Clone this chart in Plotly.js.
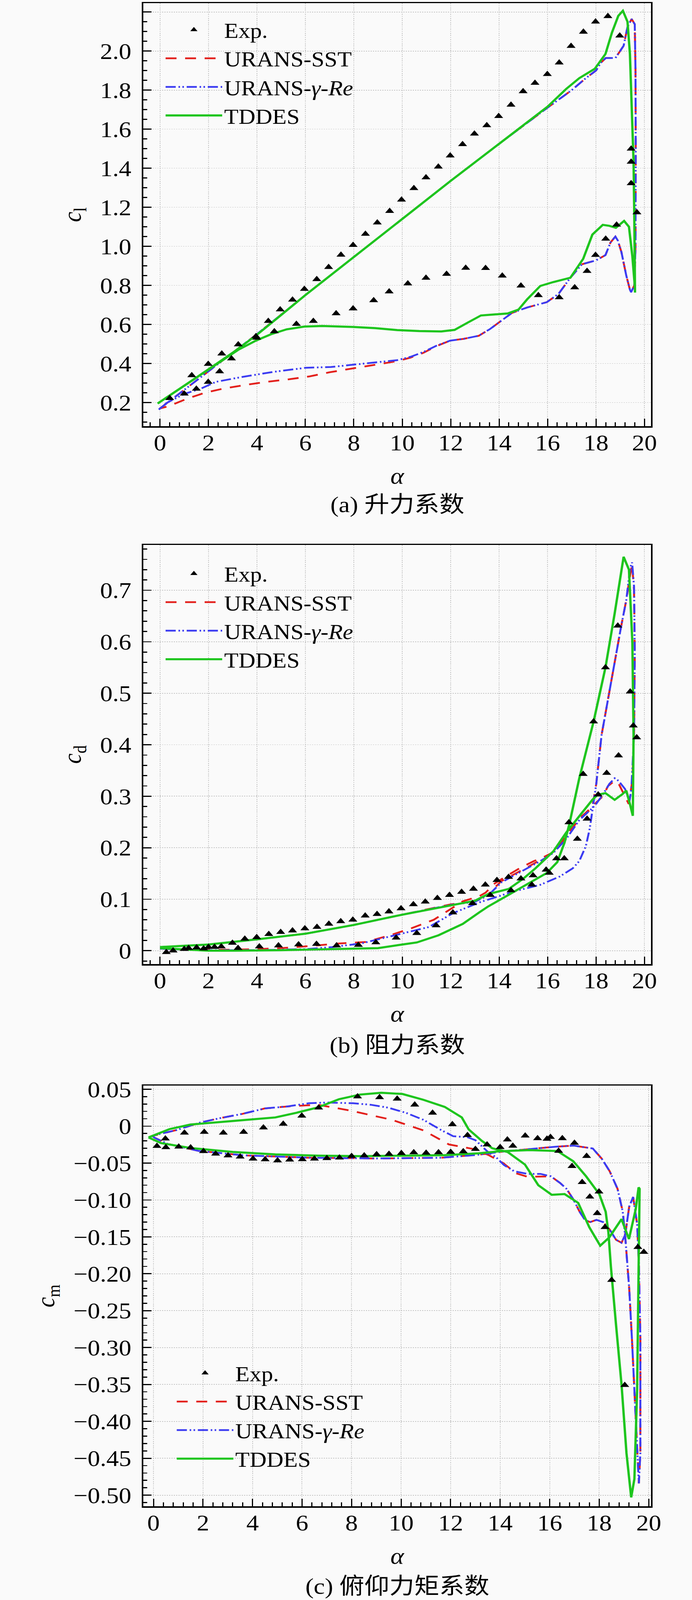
<!DOCTYPE html>
<html>
<head>
<meta charset="utf-8">
<script src="https://cdn.plot.ly/plotly-3.0.1.min.js"></script>
<style>
  html, body { margin: 0; padding: 0; background: #fafafa; width: 1772px; overflow: hidden; }
  /* the photographed area is only ~4096px tall, so the 4539px page is fitted into it */
  #page { width: 1772px; height: 4539px; transform: scaleY(0.9024); transform-origin: 0 0; }
  .fig { width: 1772px; display: block; }
</style>
</head>
<body>
<div id="page">
<div id="cl_plot" class="fig" style="height:1500px"></div>
<div id="cd_plot" class="fig" style="height:1500px"></div>
<div id="cm_plot" class="fig" style="height:1539px"></div>
</div>
<script>
// ---- (a) lift coefficient ----
const cl_exp_a = [0.4,1.0,1.31,1.99,2.55,3.23,3.96,4.47,4.96,5.47,5.96,6.47,6.96,7.47,7.97,8.48,8.97,9.48,9.97,10.48,10.98,11.49,11.98,12.49,12.98,13.49,13.98,14.49,14.99,15.48,15.99,16.48,16.97,17.48,17.98,18.49,18.98,19.45,19.45,19.45,19.69,18.85,18.4,17.98,17.63,17.12,16.48,15.62,14.9,14.13,13.44,12.62,11.83,10.98,10.23,9.46,8.82,7.97,7.27,6.33,5.63,4.72,3.99,2.95,2.46,1.99,1.5]
const cl_exp_c = [0.222,0.245,0.339,0.397,0.45,0.497,0.539,0.617,0.676,0.726,0.781,0.831,0.893,0.956,1.006,1.063,1.121,1.180,1.238,1.297,1.352,1.407,1.464,1.522,1.576,1.619,1.666,1.724,1.793,1.836,1.881,1.940,2.025,2.098,2.150,2.178,2.078,1.499,1.432,1.322,1.173,1.110,1.038,0.955,0.873,0.789,0.738,0.749,0.798,0.849,0.888,0.889,0.858,0.838,0.809,0.768,0.723,0.681,0.656,0.617,0.602,0.564,0.531,0.425,0.359,0.305,0.270]

const cl_sst_a = [0,1,2,3,4,5,6,8,10,12,14,15.16,16,17,17.58,18.0,18.2,18.4,18.8,19.14,19.3,19.47,19.6,19.63,19.64,19.63,19.58,19.45,19.4,19.25,19.05,18.9,18.8,18.6,18.39,18.0,17.42,16.94,16.45,15.97,15.16,14.53,14.07,13.62,13.16,12.53,11.98,11.43,10.88,10.34,9.79,8.9,7.97,7.0,6.18,5.32,4.4,3.52,2.63,1.82,1.08,0.37,0]
const cl_sst_c = [0.17,0.265,0.36,0.455,0.55,0.65,0.75,0.945,1.14,1.335,1.525,1.633,1.71,1.80,1.861,1.90,1.94,1.964,1.964,2.027,2.123,2.164,2.137,1.9,1.5,1.0,0.8,0.765,0.778,0.85,0.97,1.03,1.05,1.02,0.955,0.928,0.908,0.839,0.756,0.714,0.687,0.659,0.617,0.576,0.542,0.526,0.517,0.49,0.455,0.43,0.412,0.395,0.375,0.355,0.334,0.319,0.306,0.29,0.272,0.249,0.218,0.182,0.17]

const cl_gre_a = [-0.05,0,1,2,3,4,5,6,8,10,12,14,15.16,16,17,17.58,18.0,18.2,18.4,18.8,19.14,19.3,19.47,19.6,19.63,19.64,19.63,19.58,19.45,19.4,19.25,19.05,18.9,18.8,18.6,18.39,18.0,17.42,16.94,16.45,15.97,15.16,14.53,14.07,13.62,13.16,12.53,11.98,11.43,10.88,10.34,9.79,8.88,7.97,7.06,6.02,4.68,3.34,2.31,1.66,1.02,0.27,-0.05]
const cl_gre_c = [0.164,0.17,0.265,0.36,0.455,0.55,0.65,0.75,0.945,1.14,1.335,1.525,1.633,1.71,1.80,1.861,1.90,1.94,1.964,1.964,2.027,2.123,2.164,2.137,1.9,1.5,1.0,0.8,0.765,0.778,0.85,0.97,1.03,1.05,1.02,0.955,0.928,0.908,0.839,0.756,0.714,0.687,0.659,0.617,0.576,0.542,0.526,0.517,0.492,0.459,0.434,0.417,0.405,0.392,0.382,0.378,0.357,0.33,0.306,0.27,0.245,0.198,0.164]

const cl_tddes_a = [-0.1,1,2,3,4,5,6,8,10,12,14,15.16,16,16.77,17.31,17.95,18.39,18.66,18.92,19.11,19.3,19.4,19.48,19.55,19.58,19.61,19.6,19.5,19.36,19.16,18.98,18.82,18.55,18.28,17.85,17.47,16.94,16.24,15.7,15.16,14.8,14.35,13.8,13.25,12.7,12.16,11.61,10.7,9.79,8.88,7.97,6.69,5.96,5.23,4.59,3.96,3.23,2.5,1.77,1.04,0.4,-0.1]
const cl_tddes_c = [0.195,0.285,0.37,0.455,0.547,0.648,0.75,0.945,1.14,1.335,1.525,1.635,1.715,1.806,1.861,1.909,1.985,2.095,2.18,2.206,2.15,1.985,1.709,1.433,1.157,0.763,0.8,0.95,1.10,1.13,1.11,1.095,1.105,1.11,1.06,0.936,0.839,0.817,0.797,0.729,0.676,0.656,0.651,0.646,0.609,0.572,0.564,0.566,0.571,0.581,0.587,0.592,0.589,0.575,0.55,0.517,0.47,0.41,0.35,0.29,0.235,0.195]

// ---- (b) drag coefficient ----
const cd_exp_a = [0.26,0.54,1.0,1.18,1.51,1.8,2.0,2.25,2.53,2.99,3.5,3.99,4.49,4.98,5.47,5.98,6.48,6.97,7.46,7.96,8.47,8.96,9.45,9.95,10.46,10.95,11.45,11.95,12.45,12.94,13.43,13.91,14.39,14.9,15.4,15.94,16.37,16.88,17.47,17.9,18.39,18.9,19.41,19.54,19.68,3.22,4.1,4.89,5.72,6.46,7.29,8.19,8.91,9.75,10.6,11.4,12.09,12.9,13.64,14.49,15.35,16.07,16.69,17.23,17.63,18.09,18.44,18.93]
const cd_exp_c = [-0.003,0.0,0.003,0.005,0.006,0.004,0.007,0.007,0.008,0.015,0.023,0.026,0.032,0.036,0.039,0.043,0.046,0.052,0.057,0.06,0.068,0.071,0.076,0.082,0.09,0.095,0.102,0.108,0.114,0.12,0.128,0.137,0.143,0.14,0.146,0.157,0.179,0.249,0.343,0.445,0.55,0.631,0.503,0.437,0.414,0.005,0.008,0.01,0.012,0.013,0.01,0.011,0.016,0.025,0.034,0.049,0.074,0.092,0.108,0.117,0.128,0.151,0.179,0.217,0.256,0.303,0.345,0.379]

const cd_sst_a = [0,1,2,3,4,5,5.9,7.4,8.5,9.5,10.4,11.3,12.5,13.17,13.44,13.82,14.19,14.52,14.84,15.43,15.81,16.18,16.5,16.77,16.99,17.3,17.6,17.85,18.01,18.23,18.5,18.77,19.03,19.25,19.41,19.49,19.57,19.6,19.57,19.5,19.35,19.2,18.93,18.77,18.5,18.28,17.96,17.58,17.31,16.77,16.24,15.7,15.16,14.62,14.09,13.55,13.0,12,10,8,6,4,2,0]
const cd_sst_c = [0.004,0.002,0.002,0.002,0.003,0.005,0.008,0.014,0.017,0.03,0.044,0.06,0.096,0.1055,0.1127,0.1305,0.1417,0.151,0.16,0.174,0.181,0.19,0.206,0.224,0.242,0.256,0.266,0.28,0.324,0.419,0.492,0.56,0.628,0.681,0.73,0.75,0.70,0.576,0.42,0.33,0.285,0.30,0.325,0.33,0.32,0.30,0.285,0.268,0.257,0.22,0.192,0.176,0.162,0.148,0.135,0.11,0.096,0.09,0.07,0.05,0.033,0.022,0.012,0.007]

const cd_gre_a = [0,1,2,3,4,5,6,7.1,8.3,9.7,11.1,12.1,13.2,14.0,14.6,15.7,16.5,17.04,17.31,17.58,17.74,17.85,17.96,18.01,18.23,18.5,18.77,19.03,19.25,19.41,19.49,19.57,19.6,19.57,19.46,19.38,19.2,18.93,18.77,18.55,18.28,17.96,17.58,17.31,16.77,16.24,15.7,15.16,14.62,14.09,13.55,13.0,12,10,8,6,4,2,0]
const cd_gre_c = [0.004,0.002,0.001,0.001,0.001,0.002,0.003,0.007,0.014,0.03,0.046,0.073,0.094,0.106,0.115,0.128,0.144,0.16,0.174,0.203,0.237,0.272,0.306,0.324,0.419,0.492,0.56,0.628,0.681,0.744,0.754,0.707,0.576,0.419,0.314,0.29,0.314,0.33,0.335,0.324,0.303,0.282,0.265,0.2536,0.217,0.19,0.174,0.16,0.146,0.1326,0.1075,0.095,0.089,0.07,0.05,0.033,0.022,0.012,0.007]

const cd_tddes_a = [0,1,2,3,4,5,6,7,8,9,10,10.6,11.5,12.5,13.2,13.55,14,14.63,15.2,15.97,16.4,16.7,16.9,17.31,17.9,18.39,18.77,19.14,19.36,19.5,19.55,19.52,19.41,19.25,19.09,18.77,18.39,18.07,17.85,17.31,16.78,16.24,15.5,15,14.4,13.55,13,12,10,8,6,4,2,0]
const cd_tddes_c = [0.005,0.002,0.0,0.0,0.0,0.001,0.002,0.003,0.003,0.005,0.012,0.016,0.03,0.052,0.075,0.086,0.098,0.115,0.13,0.151,0.172,0.21,0.246,0.335,0.445,0.55,0.655,0.765,0.74,0.6,0.42,0.262,0.283,0.311,0.304,0.293,0.306,0.303,0.293,0.262,0.23,0.193,0.16,0.14,0.12,0.11,0.097,0.088,0.07,0.05,0.033,0.022,0.012,0.007]

// ---- (c) pitching moment coefficient ----
const cm_exp_a = [0.48,1.25,2.05,2.82,3.64,4.44,5.24,5.99,6.67,8.24,9.13,9.84,10.55,11.27,12.07,12.68,13.47,14.29,14.51,15.01,15.51,15.89,16.03,16.51,17.0,17.49,16.9,17.31,17.62,17.99,17.92,18.23,18.5,19.03,19.56,19.8,16.36,14.0,0.14,0.5,1.02,1.5,2.02,2.51,3.01,3.5,4.02,4.51,5.01,5.5,6.01,6.5,7.0,7.51,8.0,8.51,9.01,9.51,10.01,10.51,11.01,11.51,12.0,12.51,13.0]
const cm_exp_c = [-0.017,-0.009,-0.008,-0.009,-0.008,-0.002,0.003,0.014,0.025,0.04,0.039,0.037,0.029,0.018,0.0024,-0.0124,-0.0251,-0.0183,-0.0268,-0.013,-0.0166,-0.0173,-0.0149,-0.0166,-0.0228,-0.0406,-0.0543,-0.076,-0.0957,-0.0888,-0.118,-0.137,-0.2086,-0.351,-0.164,-0.1706,-0.0336,-0.0286,-0.027,-0.0288,-0.028,-0.029,-0.034,-0.0375,-0.0399,-0.0415,-0.0442,-0.0452,-0.0466,-0.0455,-0.045,-0.0442,-0.0436,-0.0428,-0.0407,-0.0399,-0.0383,-0.0378,-0.0367,-0.0356,-0.0363,-0.0356,-0.0351,-0.0343,-0.0311]

const cm_sst_a = [-0.05,0.04,0.57,1.82,3.6,6.27,8.95,11.62,13.05,14.12,15.19,16.26,16.97,17.74,18.1,18.42,18.74,18.95,19.05,19.21,19.32,19.42,19.53,19.6,19.66,19.66,19.6,19.53,19.37,19.21,19.05,18.9,18.68,18.42,18.16,17.89,17.63,17.42,17.21,16.95,16.68,16.42,16.05,15.63,15.1,14.65,14.12,13.52,12.96,11.93,10.9,9.62,7.92,6.63,5.38,4.5,3.6,2.71,1.9,0.93,0.21,-0.05]
const cm_sst_c = [-0.0133,-0.0156,-0.024,-0.0335,-0.0395,-0.0428,-0.0438,-0.0428,-0.039,-0.0344,-0.0311,-0.0278,-0.0264,-0.0303,-0.044,-0.061,-0.085,-0.116,-0.15,-0.22,-0.288,-0.357,-0.426,-0.484,-0.443,-0.288,-0.185,-0.133,-0.096,-0.109,-0.147,-0.158,-0.154,-0.14,-0.13,-0.127,-0.13,-0.127,-0.116,-0.099,-0.085,-0.077,-0.068,-0.068,-0.0686,-0.064,-0.05,-0.039,-0.0312,-0.0248,-0.0057,0.0086,0.0213,0.029,0.0266,0.024,0.0167,0.011,0.005,-0.0053,-0.011,-0.0133]

const cm_gre_a = [-0.05,0.04,0.57,1.82,3.6,6.27,8.95,11.62,13.05,14.12,15.19,16.26,16.97,17.74,18.1,18.42,18.74,18.95,19.05,19.21,19.32,19.42,19.53,19.6,19.66,19.66,19.6,19.53,19.37,19.21,19.05,18.9,18.68,18.42,18.16,17.89,17.63,17.42,17.21,16.95,16.68,16.42,16.05,15.63,15.1,14.57,14.15,13.84,13.52,13.0,12.68,12.1,11.6,10.9,10.2,9.48,8.77,8.06,6.99,6.27,5.38,4.5,3.6,2.71,1.9,0.93,0.21,-0.05]
const cm_gre_c = [-0.0133,-0.0156,-0.024,-0.0335,-0.0395,-0.0428,-0.0438,-0.0428,-0.039,-0.0344,-0.0311,-0.0278,-0.0264,-0.0303,-0.044,-0.061,-0.085,-0.116,-0.15,-0.22,-0.288,-0.357,-0.426,-0.484,-0.443,-0.288,-0.185,-0.133,-0.096,-0.109,-0.147,-0.158,-0.154,-0.14,-0.13,-0.127,-0.13,-0.127,-0.116,-0.099,-0.085,-0.077,-0.068,-0.0647,-0.0647,-0.0612,-0.0526,-0.0423,-0.0354,-0.019,-0.015,-0.0136,-0.005,0.0086,0.018,0.025,0.029,0.031,0.032,0.031,0.0266,0.024,0.0167,0.011,0.005,-0.0053,-0.011,-0.0133]

const cm_tddes_a = [-0.2,0.31,1.5,3.2,4.92,6.63,8.34,10.05,11.76,13.13,14.0,15.19,16.31,16.95,17.47,18.0,18.26,18.37,18.47,18.68,18.9,19.1,19.29,19.42,19.53,19.58,19.63,19.59,19.47,19.2,18.9,18.4,18.04,17.6,17.15,16.6,16.08,15.54,15.0,14.3,13.68,13.26,12.73,12.45,11.76,10.9,10.05,9.2,8.34,7.49,6.63,5.78,4.92,3.2,1.5,0.65,-0.08,-0.2]
const cm_tddes_c = [-0.0153,-0.023,-0.0296,-0.035,-0.0383,-0.040,-0.0407,-0.0402,-0.0393,-0.0368,-0.034,-0.0325,-0.0337,-0.0475,-0.068,-0.092,-0.116,-0.144,-0.19,-0.27,-0.35,-0.443,-0.503,-0.478,-0.357,-0.22,-0.085,-0.083,-0.113,-0.153,-0.126,-0.151,-0.162,-0.137,-0.104,-0.092,-0.093,-0.080,-0.052,-0.035,-0.030,-0.02,-0.0045,0.0118,0.0261,0.0357,0.0436,0.0452,0.0428,0.0365,0.0253,0.0182,0.0118,0.007,0.0022,-0.004,-0.0136,-0.0153]

const cm_tick_vals = [0.05,0,-0.05,-0.10,-0.15,-0.20,-0.25,-0.30,-0.35,-0.40,-0.45,-0.50]
const cm_tick_text = ["0.05","0","\u22120.05","\u22120.10","\u22120.15","\u22120.20","\u22120.25","\u22120.30","\u22120.35","\u22120.40","\u22120.45","\u22120.50"]

const series_names = ["Exp.", "URANS-SST", "URANS-<i>\u03b3</i>-<i>Re</i>", "TDDES"]

const bg = '#fafafa'
const font_family = "'Liberation Serif', 'Times New Roman', 'Noto Sans CJK SC', serif"

function make_traces(exp_a, exp_c, sst_a, sst_c, gre_a, gre_c, tddes_a, tddes_c)
{
    // lines first, experiment triangles drawn on top but listed first in legend
    return [
        { x: sst_a, y: sst_c, name: series_names[1], mode: 'lines', legendrank: 2,
          line: { color: '#e3201c', width: 5, dash: '28px,22px' } },
        { x: gre_a, y: gre_c, name: series_names[2], mode: 'lines', legendrank: 3,
          line: { color: '#3b3bf2', width: 5, dash: '26px,7px,4px,6px,4px,7px' } },
        { x: tddes_a, y: tddes_c, name: series_names[3], mode: 'lines', legendrank: 4,
          line: { color: '#1ec51e', width: 6 } },
        { x: exp_a, y: exp_c, name: series_names[0], mode: 'markers', legendrank: 1,
          marker: { symbol: 'triangle-up', size: 20, color: 'black' } },
    ]
}

function base_axis()
{
    return {
        ticks: 'inside', ticklen: 21, tickwidth: 3, tickcolor: 'black',
        showline: true, linewidth: 4, linecolor: 'black', mirror: true,
        showgrid: true, gridcolor: '#c4c4c4', gridwidth: 2, griddash: 'dot',
        zeroline: false,
        tickfont: { size: 64, color: 'black' },
    }
}

function make_layout(p)
{
    const xaxis = Object.assign(base_axis(), {
        range: p.xrange, tick0: 0, dtick: 2,
        ticklabelstandoff: -12,
        minor: { tick0: 0, dtick: 0.4, ticks: 'inside', ticklen: 11, tickwidth: 3, tickcolor: 'black', showgrid: false },
        title: { text: '<i>\u03b1</i>', standoff: 36, font: { size: 66 } },
    })
    const yaxis = Object.assign(base_axis(), p.yaxis, {
        range: p.yrange,
        ticklabelstandoff: 14,
        title: { text: p.ytitle, standoff: 28, font: { size: 66 } },
    })
    return {
        width: 1772,
        height: p.height,
        margin: { l: 367, r: 105, t: p.top, b: p.bottom },
        paper_bgcolor: bg,
        plot_bgcolor: bg,
        font: { family: font_family, size: 62, color: 'black' },
        showlegend: true,
        legend: {
            x: p.legend_x, y: p.legend_y, xanchor: 'left', yanchor: p.legend_anchor,
            bgcolor: 'rgba(0,0,0,0)', borderwidth: 0, itemwidth: 145,
            font: { size: 60 },
        },
        xaxis: xaxis,
        yaxis: yaxis,
        annotations: [{
            text: p.caption, xref: 'paper', yref: 'paper', x: 0.5, y: p.caption_y,
            xanchor: 'center', yanchor: 'middle', showarrow: false,
            font: { size: 64, family: font_family },
        }],
    }
}

const config = { displayModeBar: false, staticPlot: true }

Plotly.newPlot('cl_plot',
    make_traces(cl_exp_a, cl_exp_c, cl_sst_a, cl_sst_c, cl_gre_a, cl_gre_c, cl_tddes_a, cl_tddes_c),
    make_layout({
        height: 1500, top: 9, bottom: 291,
        xrange: [-0.69, 20.27], yrange: [0.079, 2.245],
        yaxis: { tick0: 0.2, dtick: 0.2, tickformat: '.1f',
                 minor: { tick0: 0.2, dtick: 0.05, ticks: 'inside', ticklen: 10, tickwidth: 3, tickcolor: 'black', showgrid: false } },
        ytitle: '<i>c</i><sub>l</sub>',
        legend_x: 0.04, legend_y: 0.975, legend_anchor: 'top',
        caption: '(a) 升力系数', caption_y: -0.185,
    }), config)

Plotly.newPlot('cd_plot',
    make_traces(cd_exp_a, cd_exp_c, cd_sst_a, cd_sst_c, cd_gre_a, cd_gre_c, cd_tddes_a, cd_tddes_c),
    make_layout({
        height: 1500, top: 46, bottom: 265,
        xrange: [-0.69, 20.27], yrange: [-0.026, 0.788],
        yaxis: { tick0: 0, dtick: 0.1,
                 minor: { tick0: 0, dtick: 0.02, ticks: 'inside', ticklen: 10, tickwidth: 3, tickcolor: 'black', showgrid: false } },
        ytitle: '<i>c</i><sub>d</sub>',
        legend_x: 0.04, legend_y: 0.97, legend_anchor: 'top',
        caption: '(b) 阻力系数', caption_y: -0.194,
    }), config)

Plotly.newPlot('cm_plot',
    make_traces(cm_exp_a, cm_exp_c, cm_sst_a, cm_sst_c, cm_gre_a, cm_gre_c, cm_tddes_a, cm_tddes_c),
    make_layout({
        height: 1539, top: 80, bottom: 266,
        xrange: [-0.41, 20.09], yrange: [-0.515, 0.0548],
        yaxis: { tickmode: 'array', tickvals: cm_tick_vals, ticktext: cm_tick_text,
                 minor: { tickmode: 'linear', tick0: 0, dtick: 0.01, ticks: 'inside', ticklen: 10, tickwidth: 3, tickcolor: 'black', showgrid: false } },
        ytitle: '<i>c</i><sub>m</sub>',
        legend_x: 0.062, legend_y: 0.075, legend_anchor: 'bottom',
        caption: '(c) 俯仰力矩系数', caption_y: -0.19,
    }), config)
</script>
</body>
</html>
